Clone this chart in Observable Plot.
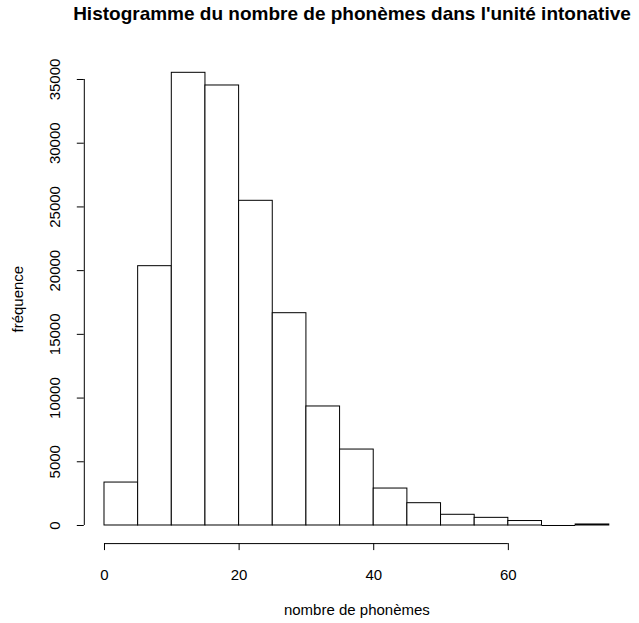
<!DOCTYPE html>
<html>
<head>
<meta charset="utf-8">
<script src="https://cdn.jsdelivr.net/npm/d3@7"></script>
<script src="https://cdn.jsdelivr.net/npm/@observablehq/plot@0.6"></script>
<style>
  html, body { margin: 0; padding: 0; background: #fff; }
  #titlebox { position: relative; height: 36px; width: 639px; }
  #title { position: absolute; left: 352px; top: 3px; transform: translateX(-50%);
    font-family: "Liberation Sans", Arial, sans-serif; font-weight: bold; font-size: 19px; color: #000; white-space: nowrap; line-height: 22px; }
  svg { display: block; }
</style>
</head>
<body>
<div id="titlebox"><div id="title"></div></div>
<div id="chart"></div>
<script>
const binStarts = [0, 5, 10, 15, 20, 25, 30, 35, 40, 45, 50, 55, 60, 65, 70];
const binWidth = 5;
const counts = [3370, 20350, 35525, 34530, 25480, 16660, 9340, 5960, 2900, 1750, 840, 600, 350, 0, 80];
const yTicks = [0, 5000, 10000, 15000, 20000, 25000, 30000, 35000];
const xTicks = [0, 20, 40, 60];
const title = "Histogramme du nombre de phonèmes dans l'unité intonative";
const xLabel = "nombre de phonèmes";
const yLabel = "fréquence";

document.getElementById("title").textContent = title;

const bins = binStarts.map((s, i) => ({x1: s, x2: s + binWidth, count: counts[i]}));
const xMin = binStarts[0], xMax = binStarts[binStarts.length - 1] + binWidth;
const yMax = d3.max(counts);
const xPad = 0.04 * (xMax - xMin), yPad = 0.04 * yMax;

const plot = Plot.plot({
  width: 639,
  height: 587,
  marginLeft: 83.8,
  marginRight: 10,
  marginTop: 18.2,
  marginBottom: 79.9,
  style: {fontFamily: "'Liberation Sans', Arial, sans-serif", fontSize: "15px", color: "#000", background: "#fff"},
  x: {domain: [xMin - xPad, xMax + xPad]},
  y: {domain: [-yPad, yMax + yPad]},
  marks: [
    Plot.rect(bins, {x1: "x1", x2: "x2", y1: 0, y2: "count", fill: "white", stroke: "black", strokeWidth: 1}),
    Plot.ruleY(bins.filter(d => d.count === 0), {x1: "x1", x2: "x2", y: 0, stroke: "black", strokeWidth: 1}),
    Plot.ruleX([xMin - xPad], {y1: yTicks[0], y2: yTicks[yTicks.length - 1], stroke: "black"}),
    Plot.ruleY([-yPad], {x1: xTicks[0], x2: xTicks[xTicks.length - 1], stroke: "black"}),
    Plot.axisY({ticks: yTicks, tickSize: 7, tickPadding: 17, tickRotate: -90, tickFormat: d => String(d), label: null, stroke: "black", textAnchor: "middle", fontSize: 15}),
    Plot.axisX({ticks: xTicks, tickSize: 7, tickPadding: 19, tickFormat: d => String(d), label: null, stroke: "black", fontSize: 15}),
    Plot.text([yLabel], {frameAnchor: "left", rotate: -90, dx: -66, fontSize: 15, textAnchor: "middle", lineAnchor: "middle"}),
    Plot.text([xLabel], {frameAnchor: "bottom", dy: 67, fontSize: 15, textAnchor: "middle", lineAnchor: "middle"})
  ]
});
document.getElementById("chart").appendChild(plot);
</script>
</body>
</html>
